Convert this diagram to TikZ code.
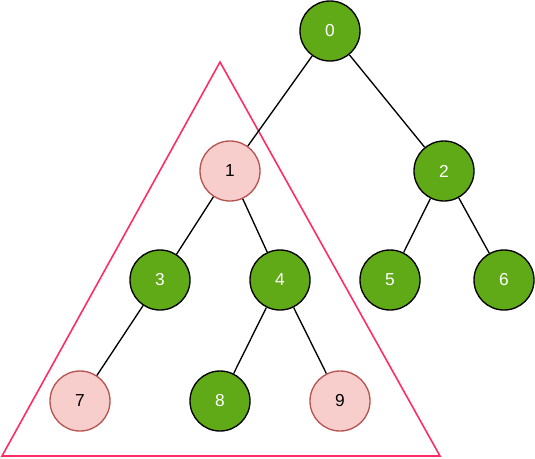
\documentclass[tikz,border=0pt]{standalone}
\usepackage{fontspec}
\setmainfont{Liberation Sans}
\definecolor{leafgreen}{HTML}{60A917}
\definecolor{markfill}{HTML}{F8CECC}
\definecolor{markline}{HTML}{B85450}
\definecolor{subtree}{HTML}{FF2D64}
\begin{document}
\begin{tikzpicture}[x=0.75pt,y=-0.75pt,
    vert/.style={circle, draw=black, line width=1pt, fill=leafgreen, text=white, minimum size=45pt, inner sep=0pt, font=\fontsize{13}{15}\selectfont},
    marked/.style={vert, draw=markline, fill=markfill, text=black}]

    \useasboundingbox (0,0) rectangle (535,458);

    \draw[subtree, line width=1.2pt, line join=miter] (220,62) -- (2,456) -- (440,456) -- cycle;

    \node (n0) [vert] at (330,31) {0};
    \node (n1) [marked] at (230,171) {1};
    \node (n2) [vert] at (444,171) {2};
    \node (n3) [vert] at (160,280) {3};
    \node (n4) [vert] at (280,280) {4};
    \node (n5) [vert] at (390,280) {5};
    \node (n6) [vert] at (504,280) {6};
    \node (n7) [marked] at (80,401) {7};
    \node (n8) [vert] at (220,401) {8};
    \node (n9) [marked] at (340,401) {9};

    \foreach \a/\b in {n0/n1, n0/n2, n1/n3, n1/n4, n2/n5, n2/n6, n3/n7, n4/n8, n4/n9}
    \draw[line width=1pt] (\a) -- (\b);

\end{tikzpicture}
\end{document}
